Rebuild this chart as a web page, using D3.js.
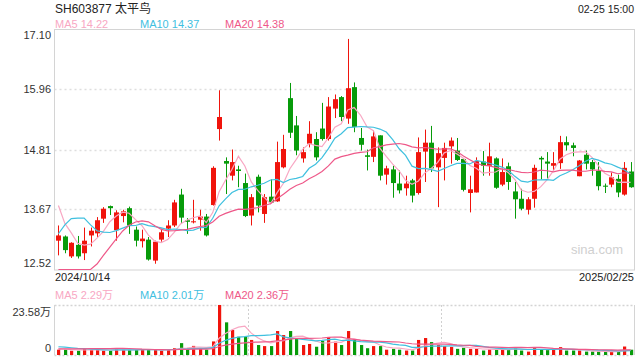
<!DOCTYPE html>
<html><head><meta charset="utf-8">
<script src="https://cdn.jsdelivr.net/npm/d3@7"></script>
<style>body{margin:0;background:#fff}svg{display:block;font-family:Arial,"Liberation Sans","Noto Sans CJK SC",sans-serif}</style>
</head><body><svg id="c" width="640" height="360"></svg>
<script>
// ---- data ----
const opens  = [13.07,13.15,12.77,12.99,12.83,13.17,13.21,13.49,13.73,13.27,13.54,13.69,13.28,13.06,13.09,12.69,13.09,13.30,13.36,13.95,13.46,13.42,13.47,13.53,13.75,15.20,14.59,14.31,14.43,14.17,13.55,14.29,13.58,13.91,13.82,14.47,15.79,15.27,14.64,14.92,15.01,15.21,15.01,15.59,15.81,15.40,16.00,15.03,14.70,14.67,15.08,14.33,14.43,14.16,14.07,14.22,13.98,14.77,14.94,14.47,14.65,14.87,14.79,14.63,13.98,13.99,14.58,14.50,14.64,14.14,14.49,14.01,13.87,13.66,13.87,14.65,14.58,14.50,14.55,14.95,14.89,14.30,14.71,14.57,14.40,14.12,14.14,14.25,13.95,14.39];
const highs  = [13.36,13.17,13.04,13.16,13.32,13.32,13.52,13.71,13.74,13.65,13.66,13.72,13.34,13.28,13.14,13.07,13.30,13.46,13.85,14.06,13.50,13.85,13.66,13.58,14.49,15.94,14.66,14.81,14.50,14.35,13.96,14.33,13.96,14.24,14.96,15.09,16.08,15.45,14.85,15.35,15.14,15.70,15.81,15.86,15.83,16.92,16.09,15.22,14.81,15.17,15.08,14.50,14.50,14.41,14.31,14.25,15.04,15.19,15.26,14.85,14.94,15.04,15.03,14.64,14.31,14.66,14.78,14.94,14.66,14.64,14.56,14.19,14.06,13.90,14.52,14.68,14.76,14.76,15.07,15.06,14.94,14.61,14.79,14.61,14.57,14.16,14.37,14.33,14.57,14.57];
const lows   = [12.79,12.83,12.74,12.73,12.70,12.96,13.13,13.41,13.56,13.07,13.42,13.20,12.96,12.94,12.69,12.63,13.05,13.14,13.33,13.41,13.20,13.40,13.26,13.15,13.74,14.98,13.96,14.22,14.09,13.52,13.36,13.61,13.41,13.79,13.81,14.45,15.03,14.70,14.56,14.85,14.60,14.98,14.98,15.41,15.35,15.30,15.14,14.79,14.41,14.57,14.22,14.14,13.89,13.97,13.93,13.80,13.95,14.19,14.38,13.71,14.22,14.54,14.59,14.01,13.61,13.99,14.31,14.31,14.06,14.11,14.04,13.49,13.65,13.57,13.70,14.24,14.25,14.41,14.44,14.79,14.68,14.30,14.43,14.31,14.03,13.98,14.09,13.90,13.93,14.08];
const closes = [13.17,12.89,13.03,12.77,13.07,13.26,13.46,13.68,13.69,13.61,13.63,13.36,13.07,13.11,12.71,13.05,13.23,13.36,13.80,13.51,13.43,13.44,13.53,13.17,14.46,15.43,14.54,14.57,14.40,13.54,13.90,13.74,13.90,13.80,14.57,14.82,15.13,14.79,14.76,15.11,14.66,15.01,15.63,15.77,15.43,15.98,15.24,14.90,14.67,15.06,14.31,14.45,14.17,14.03,14.16,13.93,14.76,14.94,14.45,14.74,14.84,14.98,14.61,14.04,14.05,14.59,14.50,14.68,14.08,14.38,14.19,13.86,13.68,13.86,14.46,14.62,14.54,14.55,14.95,14.89,14.84,14.60,14.54,14.43,14.11,14.10,14.28,13.99,14.46,14.09];
// volume, 万手
const volumes = [2.5,2.5,2.0,2.0,2.8,2.5,2.5,2.0,2.0,3.2,2.5,2.5,2.5,2.5,2.5,2.5,2.0,2.5,3.2,5.6,2.9,4.3,2.9,2.5,6.4,23.58,15.4,11.8,8.6,8.6,7.1,4.7,4.2,4.2,11.3,9.4,11.3,7.9,4.7,5.2,3.9,6.6,8.4,6.3,4.7,11.3,7.4,4.7,3.2,4.2,4.2,2.5,2.9,2.5,2.1,2.1,7.1,8.0,6.1,4.7,4.2,3.8,2.9,3.4,2.9,2.9,2.1,2.6,2.9,2.6,2.6,3.6,2.1,1.6,3.7,2.6,2.6,2.6,3.7,2.1,2.1,2.1,1.6,1.6,1.6,1.6,1.6,1.6,4.0,2.5];
// trading days before the first visible one (needed for moving averages)
const prevCloses  = [10.45,10.38,10.30,10.42,10.35,10.28,10.40,10.52,10.47,10.61,11.19,11.83,12.67,13.07,14.56,14.59,13.93,13.77,13.24];
const prevVolumes = [1.5,1.6,1.8,1.7,1.6,1.9,1.7,1.6,1.8,1.8,4.2,5.0,5.5,4.0,4.8,3.8,3.4,3.0,2.8];
const priceTicks = [12.52,13.67,14.81,15.96,17.10];
const priceTickLabels = ["12.52","13.67","14.81","15.96","17.10"];
const volTicks = [0,23.58];
const volTickLabels = ["0","23.58万"];
const dateLabels = ["2024/10/14","2025/02/25"];
const title = "SH603877 太平鸟";
const timeLabel = "02-25 15:00";
const priceLegend = [["MA5","14.22"],["MA10","14.37"],["MA20","14.38"]];
const volLegend = [["MA5","2.29万"],["MA10","2.01万"],["MA20","2.36万"]];
const maPeriods = [5,10,20];

// ---- drawing ----
const svg = d3.select("#c");
const UP="#f0140c", DOWN="#079b0a";
const maColors=["#f8a7c3","#3fc0df","#ee5889"];
const L=54.5, R=634.5, T=29.5, B=270, VT=305, VB=355;
const n = closes.length;
const x = d3.scaleBand().domain(d3.range(n)).range([L,R]).padding(0.22);
const xc = i => x(i)+x.bandwidth()/2;
const y = d3.scaleLinear().domain([12.52,17.10]).range([B-0.5,T]);
const yv = d3.scaleLinear().domain([0,23.58]).range([VB,VT]);

function movingAvg(vals, prev, p){
  const all = prev.concat(vals), off = prev.length;
  return vals.map((_,i)=>d3.mean(all.slice(off+i-p+1, off+i+1)));
}

// header
svg.append("text").attr("x",55).attr("y",13).attr("font-size",12).attr("fill","#222").text(title);
svg.append("text").attr("x",634).attr("y",13).attr("text-anchor","end").attr("font-size",10.5).attr("fill","#222").text(timeLabel);
const legX=[55,140,225];
priceLegend.forEach((d,k)=>svg.append("text").attr("x",legX[k]).attr("y",27.5).attr("font-size",11).attr("fill",maColors[k]).text(d[0]+" "+d[1]));
volLegend.forEach((d,k)=>svg.append("text").attr("x",legX[k]).attr("y",299).attr("font-size",11).attr("fill",maColors[k]).text(d[0]+" "+d[1]));

// price grid + labels
priceTicks.forEach((t,k)=>{
  const yy = y(t);
  if(k>0 && k<priceTicks.length-1){
    svg.append("line").attr("x1",L).attr("x2",R).attr("y1",Math.round(yy)+0.5).attr("y2",Math.round(yy)+0.5)
      .attr("stroke","#dedede").attr("stroke-width",1.5).attr("stroke-dasharray","2,3");
  }
  let ly = yy+4;
  if(k===0) ly = B-3; if(k===priceTicks.length-1) ly = T+9.5;
  svg.append("text").attr("x",51).attr("y",ly).attr("text-anchor","end").attr("font-size",11).attr("fill","#333").text(priceTickLabels[k]);
});
svg.append("rect").attr("x",L).attr("y",T).attr("width",R-L).attr("height",B-T).attr("fill","none").attr("stroke","#d4d4d4");

// watermark
svg.append("text").attr("x",623).attr("y",254).attr("text-anchor","end").attr("font-size",13).attr("fill","#d0d0d0").text("sina.com");

// candles
const cg = svg.append("g");
d3.range(n).forEach(i=>{
  const up = closes[i]>=opens[i], col = up?UP:DOWN;
  const cx = Math.round(xc(i))+0.5;
  cg.append("line").attr("x1",cx).attr("x2",cx).attr("y1",y(highs[i])).attr("y2",y(lows[i])).attr("stroke",col).attr("stroke-width",1);
  const top = y(Math.max(opens[i],closes[i])), bot = y(Math.min(opens[i],closes[i]));
  cg.append("rect").attr("x",cx-2.5).attr("width",5).attr("y",top).attr("height",Math.max(1,bot-top)).attr("fill",col);
});

// price MA lines
const clampP = v=>Math.max(12.52,Math.min(17.10,v));
maPeriods.forEach((p,k)=>{
  const ma = movingAvg(closes, prevCloses, p);
  svg.append("path").attr("d", d3.line().x((d,i)=>xc(i)).y(d=>y(clampP(d)))(ma))
    .attr("fill","none").attr("stroke",maColors[k]).attr("stroke-width",1.2);
});

// volume panel frame
[VT+0.5, VB+0.5].forEach(yy=>svg.append("line").attr("x1",L).attr("x2",R).attr("y1",yy).attr("y2",yy).attr("stroke","#d4d4d4").attr("stroke-width",1.5).attr("stroke-dasharray","2,2"));
[L,R].forEach(xx=>svg.append("line").attr("x1",xx).attr("x2",xx).attr("y1",VT).attr("y2",VB).attr("stroke","#d4d4d4"));
[30,60].forEach(i=>{
  const xx = Math.round(x(i)-x.step()*x.paddingInner()/2)+0.5;
  svg.append("line").attr("x1",xx).attr("x2",xx).attr("y1",VT).attr("y2",VB).attr("stroke","#d0d0d0").attr("stroke-dasharray","2,2");
});
volTicks.forEach((t,k)=>{
  const ly = k===0 ? VB-3 : VT+11;
  svg.append("text").attr("x",51).attr("y",ly).attr("text-anchor","end").attr("font-size",11).attr("fill","#333").text(volTickLabels[k]);
});
d3.range(n).forEach(i=>{
  const col = closes[i]>=opens[i]?UP:DOWN;
  svg.append("rect").attr("x",Math.round(xc(i))-1).attr("width",3.2).attr("y",yv(volumes[i])).attr("height",VB-yv(volumes[i])).attr("fill",col);
});
maPeriods.forEach((p,k)=>{
  const ma = movingAvg(volumes, prevVolumes, p);
  svg.append("path").attr("d", d3.line().x((d,i)=>xc(i)).y(d=>yv(d))(ma))
    .attr("fill","none").attr("stroke",maColors[k]).attr("stroke-width",1.2);
});

// dates
svg.append("text").attr("x",55).attr("y",281).attr("font-size",11).attr("fill","#222").text(dateLabels[0]);
svg.append("text").attr("x",634).attr("y",281).attr("text-anchor","end").attr("font-size",11).attr("fill","#222").text(dateLabels[1]);
</script></body></html>
